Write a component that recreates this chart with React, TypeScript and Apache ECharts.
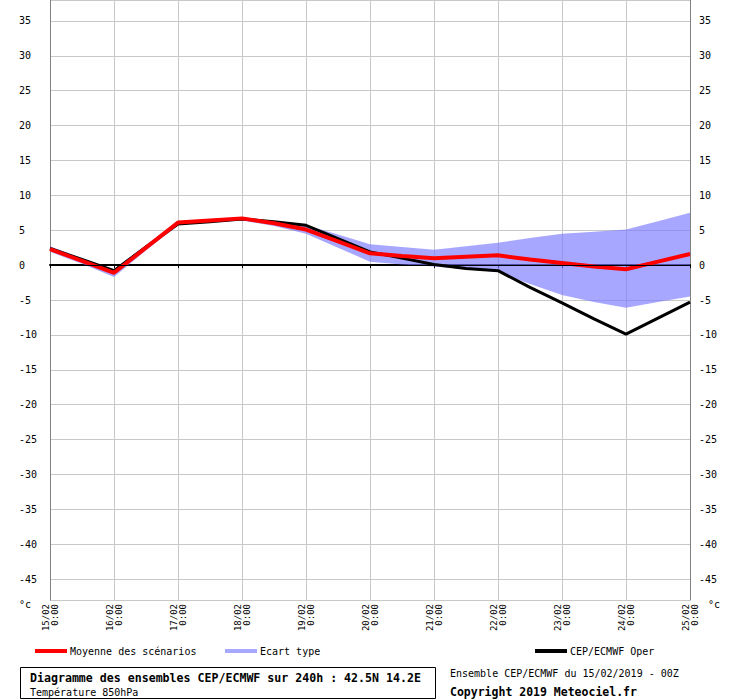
import React, { useEffect, useRef } from "react";
import * as echarts from "echarts";

const hours = [0, 12, 24, 36, 48, 60, 72, 84, 96, 108, 120, 132, 144, 156, 168, 180, 192, 204, 216, 228, 240];
const dayLabels = ["15/02", "16/02", "17/02", "18/02", "19/02", "20/02", "21/02", "22/02", "23/02", "24/02", "25/02"];
const meanValues = [2.3, 0.6, -1.1, 2.5, 6.1, 6.4, 6.7, 6.0, 5.1, 3.4, 1.7, 1.3, 1.0, 1.2, 1.4, 0.8, 0.3, -0.2, -0.6, 0.5, 1.6];
const operValues = [2.4, 0.8, -0.8, 2.6, 5.9, 6.2, 6.6, 6.2, 5.7, 3.8, 1.9, 1.0, 0.1, -0.5, -0.8, -3.2, -5.4, -7.7, -9.9, -7.6, -5.3];
const bandUpper = [2.7, 1.0, -0.6, 2.9, 6.3, 6.6, 6.9, 6.3, 5.7, 4.4, 3.0, 2.6, 2.2, 2.7, 3.2, 3.9, 4.5, 4.8, 5.1, 6.3, 7.5];
const bandLower = [1.9, 0.2, -1.7, 2.1, 5.8, 6.1, 6.4, 5.6, 4.5, 2.5, 0.5, 0.1, -0.2, -0.6, -1.0, -2.7, -4.3, -5.3, -6.1, -5.3, -4.5];

const FONT = "DejaVu Sans Mono";

export default function App() {
  const ref = useRef<HTMLDivElement>(null);
  useEffect(() => {
    if (!ref.current) return;
    const chart = echarts.init(ref.current, null, { renderer: "svg" });
    const pair = (vals: number[]) => hours.map((h, i) => [h, vals[i]]);
    const yLabelFmt = (v: number) => (Math.abs(v % 5) < 1e-6 ? String(Math.round(v)) : "");
    const legendBase = {
      top: 646,
      padding: 0,
      icon: "rect",
      itemWidth: 32,
      itemHeight: 4,
      selectedMode: false,
      textStyle: { fontFamily: FONT, fontSize: 10, color: "#000", padding: [0, 0, 0, -2] },
    };
    chart.setOption({
      animation: false,
      backgroundColor: "#fff",
      grid: { left: 50, right: 50, top: 0, bottom: 100, containLabel: false },
      xAxis: {
        type: "value",
        min: 0,
        max: 240,
        interval: 24,
        axisLine: { show: true, lineStyle: { color: "#000", width: 2 } },
        axisTick: { show: true, length: 3, lineStyle: { color: "#000" } },
        splitLine: { show: true, lineStyle: { color: "#c8c8c8", width: 1 } },
        axisLabel: {
          rotate: 90,
          margin: 4,
          fontFamily: FONT,
          fontSize: 9,
          lineHeight: 9,
          color: "#000",
          formatter: (v: number) => dayLabels[Math.round(v / 24)] + "\n0:00",
        },
      },
      yAxis: [
        {
          type: "value",
          min: -48,
          max: 38,
          splitNumber: 17,
          minInterval: 5,
          maxInterval: 5,
          position: "left",
          axisLine: { show: true, lineStyle: { color: "#808080", width: 1 } },
          axisTick: { show: false },
          splitLine: { show: true, lineStyle: { color: "#c8c8c8", width: 1 } },
          axisLabel: {
            align: "left",
            margin: 31,
            fontFamily: FONT,
            fontSize: 10,
            color: "#000",
            formatter: yLabelFmt,
          },
        },
        {
          type: "value",
          min: -48,
          max: 38,
          splitNumber: 17,
          minInterval: 5,
          maxInterval: 5,
          position: "right",
          axisLine: { show: true, lineStyle: { color: "#808080", width: 1 } },
          axisTick: { show: false },
          splitLine: { show: false },
          axisLabel: {
            align: "left",
            margin: 9,
            fontFamily: FONT,
            fontSize: 10,
            color: "#000",
            formatter: yLabelFmt,
          },
        },
      ],
      legend: [
        {
          ...legendBase,
          left: 35,
          data: [{ name: "Moyenne des scénarios", itemStyle: { color: "#ff0000", opacity: 1 } }],
        },
        {
          ...legendBase,
          left: 225,
          data: [{ name: "Ecart type", itemStyle: { color: "#a8a8ff", opacity: 1 } }],
        },
        {
          ...legendBase,
          left: 535,
          data: [{ name: "CEP/ECMWF Oper", itemStyle: { color: "#000000", opacity: 1 } }],
        },
      ],
      series: [
        {
          name: "zero",
          type: "line",
          data: [],
          symbol: "none",
          silent: true,
          z: 1,
          markLine: {
            silent: true,
            symbol: "none",
            label: { show: false },
            lineStyle: { color: "#000", width: 1, type: "solid" },
            data: [{ yAxis: 0 }],
          },
        },
        {
          name: "Ecart type",
          type: "custom",
          silent: true,
          itemStyle: { color: "#a8a8ff" },
          data: [[0, 0]],
          z: 2,
          renderItem: (params: any, api: any) => {
            const pts: number[][] = [];
            for (let i = 0; i < hours.length; i++) pts.push(api.coord([hours[i], bandUpper[i]]));
            for (let i = hours.length - 1; i >= 0; i--) pts.push(api.coord([hours[i], bandLower[i]]));
            return {
              type: "polygon",
              shape: { points: pts },
              style: { fill: "rgba(120,120,255,0.65)", stroke: "none" },
            };
          },
        },
        {
          name: "CEP/ECMWF Oper",
          type: "line",
          data: pair(operValues),
          symbol: "none",
          itemStyle: { color: "#000" },
          lineStyle: { color: "#000", width: 3 },
          z: 3,
        },
        {
          name: "Moyenne des scénarios",
          type: "line",
          data: pair(meanValues),
          symbol: "none",
          itemStyle: { color: "#ff0000" },
          lineStyle: { color: "#ff0000", width: 4 },
          z: 4,
        },
      ],
      graphic: [
        { type: "text", left: 19, top: 599, style: { text: "°c", font: `10px "${FONT}"`, fill: "#000" } },
        { type: "text", left: 708, top: 599, style: { text: "°c", font: `10px "${FONT}"`, fill: "#000" } },
        {
          type: "rect",
          shape: { x: 20.5, y: 667.5, width: 415, height: 31 },
          style: { fill: "none", stroke: "#000", lineWidth: 1 },
        },
        {
          type: "text",
          x: 30,
          y: 678,
          style: { text: "Diagramme des ensembles CEP/ECMWF sur 240h : 42.5N 14.2E", font: `bold 11.6px "${FONT}"`, fill: "#000", verticalAlign: "middle" },
        },
        {
          type: "text",
          x: 30,
          y: 692,
          style: { text: "Température 850hPa", font: `10px "${FONT}"`, fill: "#000", verticalAlign: "middle" },
        },
        {
          type: "text",
          x: 450,
          y: 673,
          style: { text: "Ensemble CEP/ECMWF du 15/02/2019 - 00Z", font: `10px "${FONT}"`, fill: "#000", verticalAlign: "middle" },
        },
        {
          type: "text",
          x: 450,
          y: 692,
          style: { text: "Copyright 2019 Meteociel.fr", font: `bold 11.5px "${FONT}"`, fill: "#000", verticalAlign: "middle" },
        },
      ],
    });
    return () => chart.dispose();
  }, []);
  return <div ref={ref} style={{ width: 740, height: 700, position: "absolute", left: 0, top: 0 }} />;
}
